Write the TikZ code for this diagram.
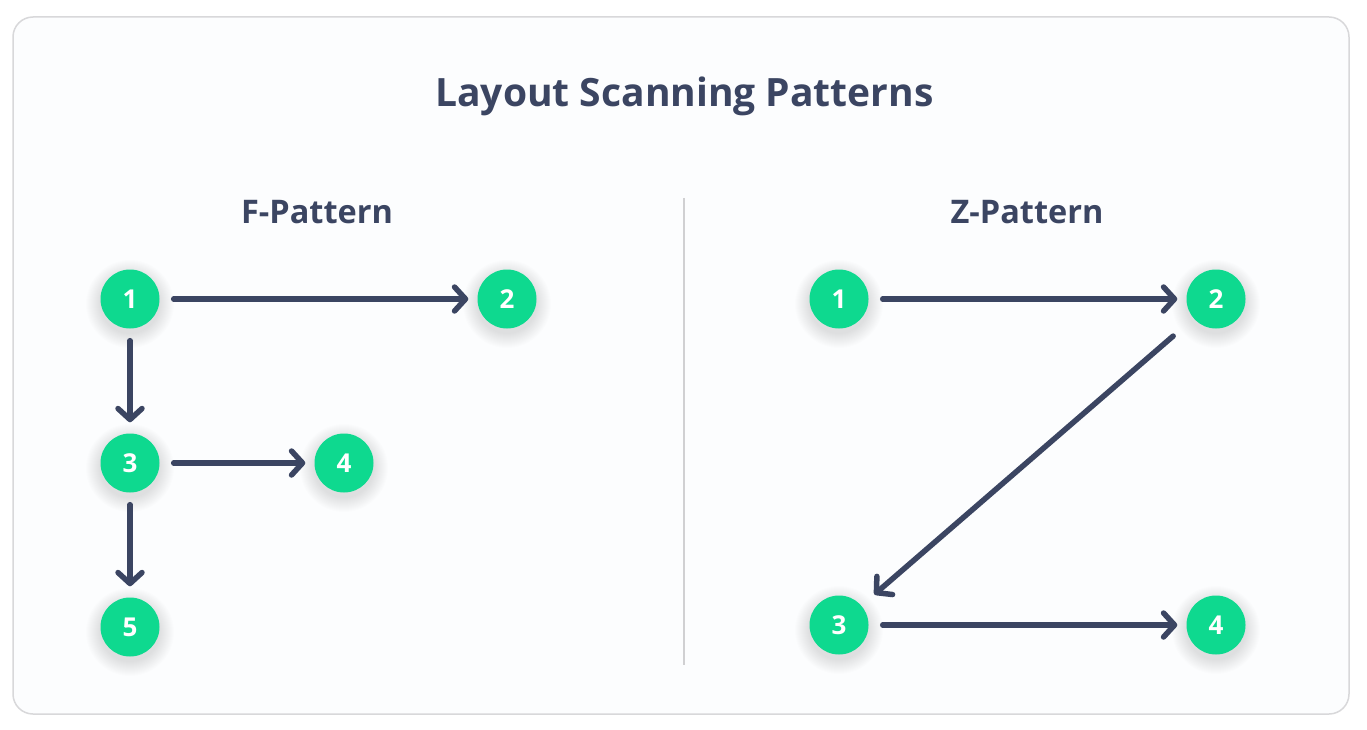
\documentclass[tikz,border=0pt]{standalone}
\usepackage{fontspec}
\setmainfont{Open Sans}
\usetikzlibrary{arrows.meta,calc}
\definecolor{ink}{RGB}{59,69,98}
\definecolor{mint}{RGB}{14,217,143}
\definecolor{cardfill}{RGB}{252,253,254}
\definecolor{cardline}{RGB}{216,216,218}
\definecolor{divider}{RGB}{208,208,210}
\newcommand\mysoftshade[1]{%
  \foreach \rr in {30,31,...,44} {\fill[black,opacity=0.0065] ($(#1)+(0,5)$) circle (\rr pt);}}
\tikzset{
  num/.style={circle,fill=mint,draw=none,minimum size=59pt,inner sep=0pt,
    text=white,font=\fontsize{26}{28}\selectfont\bfseries},
  flow/.style={draw=ink,line width=5.5pt,line cap=round,line join=round,
    -{Straight Barb[length=11pt,width=24pt,line cap=round,line join=round]}},
  hflow/.style={flow,shorten <=14pt,shorten >=9pt},
  vflow/.style={flow,shorten <=12pt,shorten >=11pt},
  dflow/.style={flow,shorten <=27pt,shorten >=17pt},
  heading/.style={text=ink,font=\fontsize{32.5}{36}\selectfont\bfseries,inner sep=0pt},
}
\begin{document}
\begin{tikzpicture}[x=1pt,y=-1pt]
\useasboundingbox (0,0) rectangle (1367,730);
\fill[white] (0,0) rectangle (1367,730);
\draw[fill=cardfill,draw=cardline,line width=1.5pt,rounded corners=20pt] (13,17) rectangle (1349,714);
\node[text=ink,font=\fontsize{39}{44}\selectfont\bfseries,inner sep=0pt] (title) at (684.5,96) {Layout Scanning Patterns};
\node[heading] (fhead) at (317,212) {F-Pattern};
\node[heading] (zhead) at (1027,212) {Z-Pattern};
\coordinate (dtop) at (684,198);
\coordinate (dbot) at (684,665);
\draw[divider,line width=1.2pt] (dtop) -- (dbot);
% positions
\coordinate (pf1) at (130,299);
\coordinate (pf2) at (507,299);
\coordinate (pf3) at (130,463);
\coordinate (pf4) at (344,463);
\coordinate (pf5) at (130,627);
\coordinate (pz1) at (839,299);
\coordinate (pz2) at (1216,299);
\coordinate (pz3) at (839,625);
\coordinate (pz4) at (1216,625);
\foreach \p in {pf1,pf2,pf3,pf4,pf5,pz1,pz2,pz3,pz4} {\mysoftshade{\p}}
% F pattern
\node[num] (f1) at (pf1) {1};
\node[num] (f2) at (pf2) {2};
\node[num] (f3) at (pf3) {3};
\node[num] (f4) at (pf4) {4};
\node[num] (f5) at (pf5) {5};
\draw[hflow] (f1) -- (f2);
\draw[vflow] (f1) -- (f3);
\draw[hflow] (f3) -- (f4);
\draw[vflow] (f3) -- (f5);
% Z pattern
\node[num] (z1) at (pz1) {1};
\node[num] (z2) at (pz2) {2};
\node[num] (z3) at (pz3) {3};
\node[num] (z4) at (pz4) {4};
\draw[hflow] (z1) -- (z2);
\draw[dflow] (z2) -- (z3);
\draw[hflow] (z3) -- (z4);
\end{tikzpicture}
\end{document}
